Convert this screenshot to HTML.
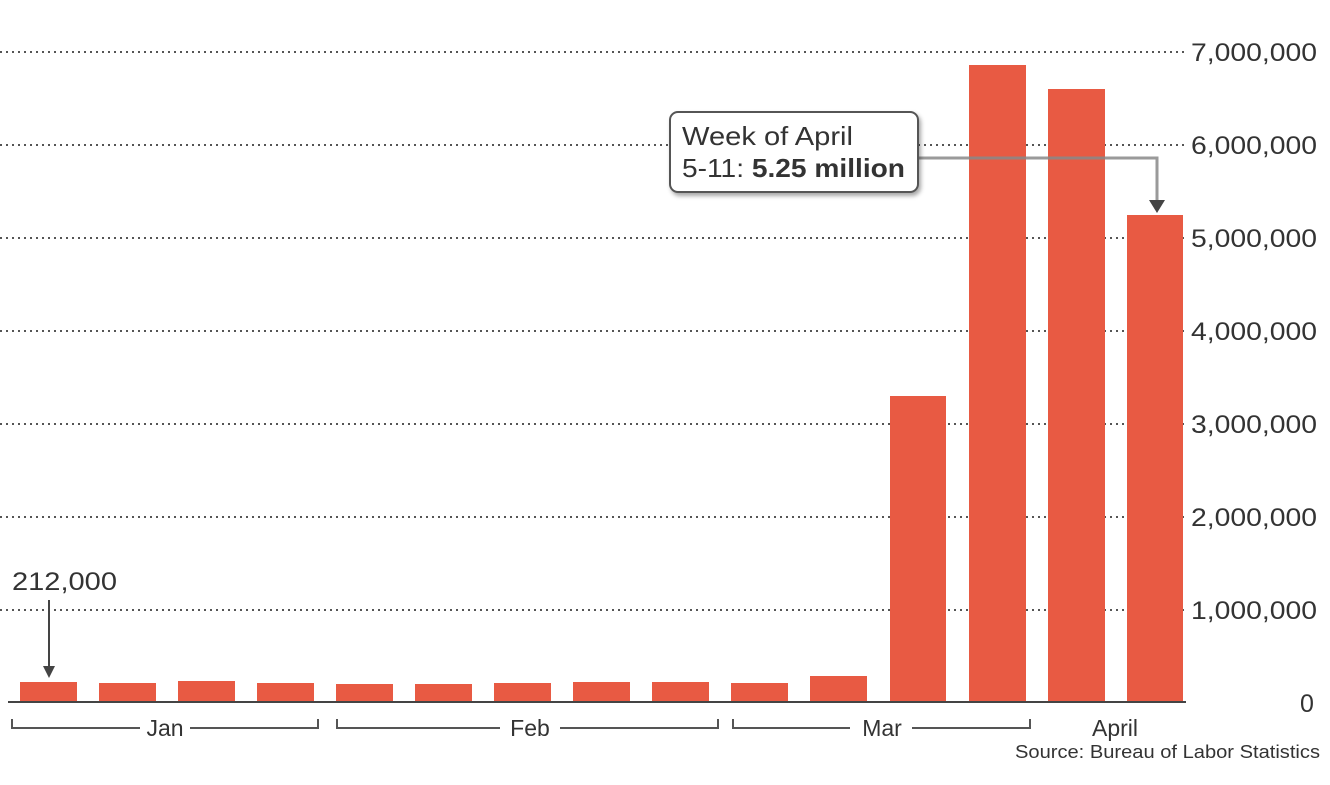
<!DOCTYPE html>
<html><head><style>
body{margin:0;background:#fff;}
svg text{font-family:"Liberation Sans",sans-serif;fill:#333;}
</style></head><body>
<svg width="1330" height="780" xmlns="http://www.w3.org/2000/svg">
<defs><filter id="sh" x="-10%" y="-10%" width="130%" height="140%"><feDropShadow dx="2" dy="3" stdDeviation="2" flood-color="#000" flood-opacity="0.35"/></filter></defs>
<g stroke="#555" stroke-width="2" stroke-dasharray="2,4">
<line x1="0" y1="52" x2="1188" y2="52"/>
<line x1="0" y1="145" x2="1188" y2="145"/>
<line x1="0" y1="238" x2="1188" y2="238"/>
<line x1="0" y1="331" x2="1188" y2="331"/>
<line x1="0" y1="424" x2="1188" y2="424"/>
<line x1="0" y1="517" x2="1188" y2="517"/>
<line x1="0" y1="610" x2="1188" y2="610"/>
</g>
<g font-size="25">
<text x="1191" y="61" textLength="126" lengthAdjust="spacingAndGlyphs">7,000,000</text>
<text x="1191" y="154" textLength="126" lengthAdjust="spacingAndGlyphs">6,000,000</text>
<text x="1191" y="247" textLength="126" lengthAdjust="spacingAndGlyphs">5,000,000</text>
<text x="1191" y="340" textLength="126" lengthAdjust="spacingAndGlyphs">4,000,000</text>
<text x="1191" y="433" textLength="126" lengthAdjust="spacingAndGlyphs">3,000,000</text>
<text x="1191" y="526" textLength="126" lengthAdjust="spacingAndGlyphs">2,000,000</text>
<text x="1191" y="619" textLength="126" lengthAdjust="spacingAndGlyphs">1,000,000</text>
<text x="1300" y="712">0</text>
</g>
<g fill="#e85a43">
<rect x="20" y="682" width="57" height="20"/>
<rect x="99" y="683" width="57" height="19"/>
<rect x="178" y="681" width="57" height="21"/>
<rect x="257" y="683" width="57" height="19"/>
<rect x="336" y="684" width="57" height="18"/>
<rect x="415" y="684" width="57" height="18"/>
<rect x="494" y="683" width="57" height="19"/>
<rect x="573" y="682" width="57" height="20"/>
<rect x="652" y="682" width="57" height="20"/>
<rect x="731" y="683" width="57" height="19"/>
<rect x="810" y="676" width="57" height="26"/>
<rect x="890" y="396" width="56" height="306"/>
<rect x="969" y="65" width="57" height="637"/>
<rect x="1048" y="89" width="57" height="613"/>
<rect x="1127" y="215" width="56" height="487"/>
</g>
<line x1="8" y1="702" x2="1186" y2="702" stroke="#444" stroke-width="2"/>
<g stroke="#555" stroke-width="2" fill="none">
<path d="M12 719V728H140M190 728H318V719"/>
<path d="M337 719V728H500M560 728H718V719"/>
<path d="M733 719V728H850M912 728H1030V719"/>
</g>
<g font-size="23">
<text x="165" y="736" text-anchor="middle">Jan</text>
<text x="530" y="736" text-anchor="middle">Feb</text>
<text x="882" y="736" text-anchor="middle">Mar</text>
<text x="1115" y="736" text-anchor="middle">April</text>
<text x="1015" y="758" font-size="18" textLength="305" lengthAdjust="spacingAndGlyphs">Source: Bureau of Labor Statistics</text>
<text x="12" y="590" font-size="25" textLength="105" lengthAdjust="spacingAndGlyphs">212,000</text>
</g>
<line x1="49" y1="600" x2="49" y2="668" stroke="#444" stroke-width="2"/>
<path d="M43 666L55 666L49 678Z" fill="#444"/>
<path d="M918 158H1157V202" stroke="#888" stroke-width="3" fill="none" opacity="0.85"/>
<path d="M1149 200L1165 200L1157 213Z" fill="#444"/>
<rect x="670" y="112" width="248" height="80" rx="8" fill="#fff" stroke="#555" stroke-width="2" filter="url(#sh)"/>
<text x="682" y="145" font-size="26" textLength="171" lengthAdjust="spacingAndGlyphs">Week of April</text>
<text x="682" y="177" font-size="26" textLength="223" lengthAdjust="spacingAndGlyphs">5-11: <tspan font-weight="bold">5.25 million</tspan></text>
</svg>
</body></html>
